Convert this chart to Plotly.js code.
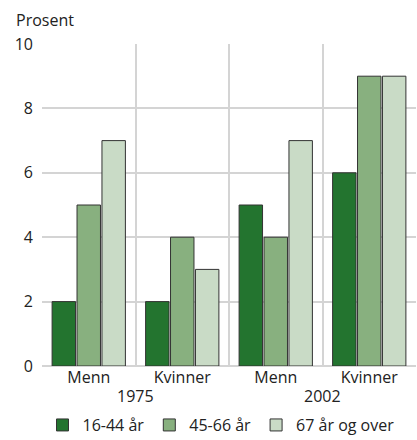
<!DOCTYPE html>
<html><head><meta charset="utf-8">
<script src="https://cdn.plot.ly/plotly-3.0.1.min.js"></script>
<style>body{margin:0;padding:0;}#chart{width:417px;height:440px;}</style>
</head><body><div id="chart"></div>
<script>
var categories = ["Menn", "Kvinner", "Menn", "Kvinner"];
var years = ["1975", "2002"];
var seriesNames = ["16-44 år", "45-66 år", "67 år og over"];
var s1 = [2, 2, 5, 6];
var s2 = [5, 4, 4, 9];
var s3 = [7, 3, 7, 9];
var colors = ["#23742f", "#88b07f", "#c9dbc6"];
var yTicks = [0, 2, 4, 6, 8, 10];

var xpos = categories.map(function(c, i){ return i; });
var font = {family: "Open Sans, Noto Sans, sans-serif", size: 16, color: "#222"};
var data = [s1, s2, s3].map(function(v, k){
  return {type: "bar", x: xpos, y: v, name: seriesNames[k],
    marker: {color: colors[k], line: {color: "#333", width: 1}}};
});
var bounds = [];
for (var i = 0; i <= categories.length; i++) bounds.push(i - 0.5);
var annotations = [{text: "Prosent", xref: "paper", yref: "paper", x: -0.075, y: 1.075, xanchor: "left", yanchor: "middle", showarrow: false, font: font}];
years.forEach(function(y, j){
  annotations.push({text: y, xref: "x", yref: "paper", x: 2*j + 0.5, y: -0.092, yanchor: "middle", showarrow: false, font: font});
});
var layout = {
  width: 417, height: 440,
  margin: {l: 42, r: 1, t: 44, b: 74},
  paper_bgcolor: "#fff", plot_bgcolor: "#fff",
  font: font,
  barmode: "group", bargap: 0.2, bargroupgap: 0.06,
  showlegend: true,
  legend: {orientation: "h", xref: "container", yref: "container", x: 0.53, xanchor: "center", y: 0.034, yanchor: "middle", font: font, traceorder: "normal", itemwidth: 30},
  xaxis: {range: [-0.5, 3.5], tickvals: bounds, showticklabels: false, showgrid: true, gridcolor: "#d4d4d4", gridwidth: 2, zeroline: false, ticks: ""},
  xaxis2: {overlaying: "x", range: [-0.5, 3.5], tickvals: xpos, ticktext: categories, showgrid: false, zeroline: false, ticks: "", side: "bottom", tickfont: font},
  yaxis: {range: [0, 10], tickvals: yTicks, showgrid: true, gridcolor: "#d4d4d4", gridwidth: 2, zeroline: true, zerolinecolor: "#d4d4d4", zerolinewidth: 2, ticks: "", ticklabelstandoff: 8, tickfont: font},
  annotations: annotations
};
data.push({type: "scatter", x: [0], y: [0], xaxis: "x2", mode: "markers", marker: {opacity: 0}, showlegend: false, hoverinfo: "skip"});
Plotly.newPlot("chart", data, layout, {displayModeBar: false, staticPlot: true});
</script></body></html>
